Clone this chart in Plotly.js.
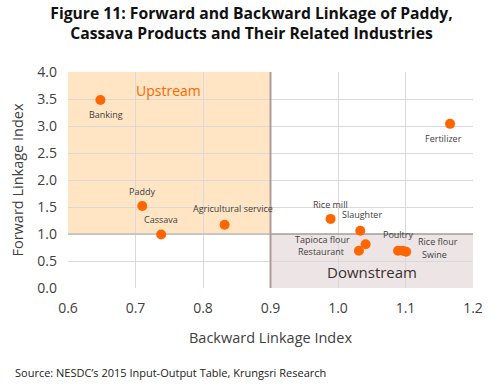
<!DOCTYPE html>
<html><head><meta charset="utf-8">
<script src="https://cdn.plot.ly/plotly-3.0.1.min.js"></script>
<style>html,body{margin:0;padding:0;background:#fff}#c{width:503px;height:387px}</style>
</head><body><div id="c"></div>
<script>
// Data
var sectors = ["Banking","Paddy","Cassava","Agricultural service","Fertilizer","Rice mill","Slaughter","Tapioca flour","Restaurant","Poultry","Rice flour","Swine"];
var backward = [0.648,0.710,0.738,0.832,1.166,0.989,1.033,1.041,1.031,1.089,1.096,1.101];
var forward  = [3.48,1.52,0.99,1.17,3.04,1.28,1.06,0.81,0.69,0.69,0.69,0.67];
var xTicks = [0.6,0.7,0.8,0.9,1.0,1.1,1.2];
var xTickLabels = ["0.6","0.7","0.8","0.9","1.0","1.1","1.2"];
var yTicks = [0,0.5,1,1.5,2,2.5,3,3.5,4];
var yTickLabels = ["0.0","0.5","1.0","1.5","2.0","2.5","3.0","3.5","4.0"];
var threshold = 1.0, backThreshold = 0.9;

// label placement (styling only): [xanchor, xshift, yshift]
var labelPos = [
  ["center",6,-14],["center",0,14],["center",0,15.5],["center",8,16],
  ["center",-7,-15],["center",0,14],["left",-20,16],["right",-14,5],
  ["right",-13,-1],["center",0,16],["left",13,9],["left",14,-3]
];

var trace = {
  x: backward, y: forward, mode: "markers", type: "scatter",
  marker: {color: "#FF6600", size: 10}, hoverinfo: "skip", showlegend: false
};

var annotations = sectors.map(function(s,i){
  return {x: backward[i], y: forward[i], xref:"x", yref:"y", text: s, showarrow:false,
    xanchor: labelPos[i][0], yanchor:"middle", xshift: labelPos[i][1], yshift: labelPos[i][2],
    font:{family:"Open Sans, sans-serif", size:9, color:"#404040"}};
});
annotations.push({x:0.749, y:3.65, xref:"x", yref:"y", text:"Upstream", showarrow:false,
  font:{family:"Open Sans, sans-serif", size:14, color:"#FF6600"}});
annotations.push({x:1.05, y:0.29, xref:"x", yref:"y", text:"Downstream", showarrow:false,
  font:{family:"Open Sans, sans-serif", size:15, color:"#3A3030"}});
annotations.push({xref:"paper", yref:"paper", xanchor:"left", yanchor:"middle",
  x: -0.136, y: -0.389, text:"Source: NESDC’s 2015 Input-Output Table, Krungsri Research", showarrow:false,
  font:{family:"Open Sans, sans-serif", size:11, color:"#222"}});

var shapes = [
  {type:"rect", xref:"x", yref:"y", x0:0.6, x1:backThreshold, y0:threshold, y1:4, fillcolor:"#FFE5C3", line:{width:0}, layer:"below"},
  {type:"rect", xref:"x", yref:"y", x0:backThreshold, x1:1.2, y0:0, y1:threshold, fillcolor:"#EDE5E5", line:{width:0}, layer:"below"},
  {type:"line", xref:"x", yref:"y", x0:backThreshold, x1:1.2, y0:threshold, y1:threshold, line:{color:"#A89C9C", width:1.5}, layer:"between"},
  {type:"line", xref:"x", yref:"y", x0:0.6, x1:backThreshold, y0:threshold, y1:threshold, line:{color:"#BDBDBD", width:1.5}, layer:"between"},
  {type:"line", xref:"x", yref:"y", x0:backThreshold, x1:backThreshold, y0:0, y1:4, line:{color:"#B09A9A", width:2}, layer:"between"}
];

var layout = {
  width:503, height:387, margin:{l:68, r:30, t:72, b:99},
  paper_bgcolor:"#fff", plot_bgcolor:"rgba(0,0,0,0)",
  title:{text:"<b>Figure 11: Forward and Backward Linkage of Paddy,<br>Cassava Products and Their Related Industries</b>",
    x:0.5, xanchor:"center", y:0.952, yanchor:"top", font:{family:"Open Sans, sans-serif", size:15.7, color:"#111"}},
  xaxis:{range:[0.6,1.2], tickvals:xTicks, ticktext:xTickLabels, showgrid:true, gridcolor:"#D9D9D9", gridwidth:1,
    zeroline:false, showline:false, ticks:"", ticklabelstandoff:10, layer:"below traces",
    tickfont:{family:"Open Sans, sans-serif", size:14, color:"#404040"},
    title:{text:"Backward Linkage Index", standoff:16, font:{family:"Open Sans, sans-serif", size:14.5, color:"#404040"}}},
  yaxis:{range:[0,4], tickvals:yTicks, ticktext:yTickLabels, showgrid:true, gridcolor:"#D9D9D9", gridwidth:1,
    zeroline:false, showline:false, ticks:"", ticklabelstandoff:10, layer:"below traces",
    tickfont:{family:"Open Sans, sans-serif", size:14, color:"#404040"},
    title:{text:"Forward Linkage Index", standoff:10, font:{family:"Open Sans, sans-serif", size:14.5, color:"#404040"}}},
  shapes: shapes, annotations: annotations
};
Plotly.newPlot("c",[trace],layout,{displayModeBar:false, staticPlot:true});
</script></body></html>
